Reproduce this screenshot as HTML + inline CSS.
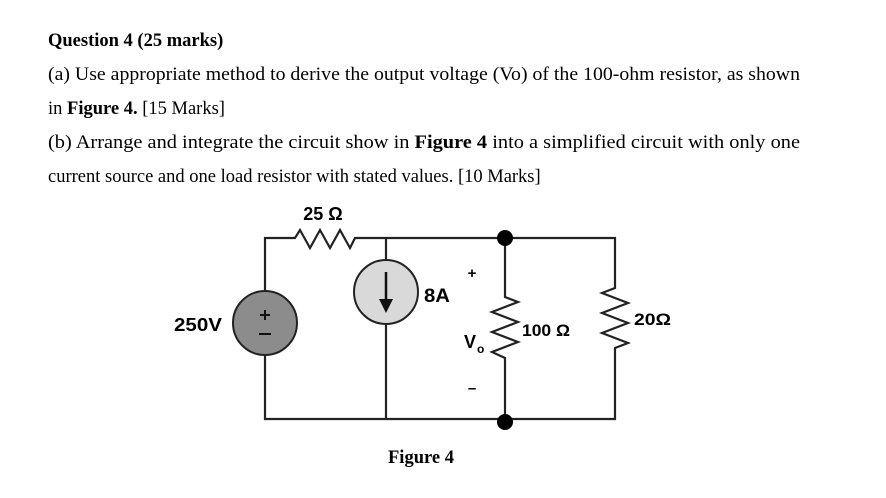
<!DOCTYPE html>
<html><head><meta charset="utf-8"><style>
html,body{margin:0;padding:0;background:#fff;}
svg{display:block;}
.t{font-family:"Liberation Serif",serif;font-size:18.5px;fill:#000;}
.s{font-family:"Liberation Sans",sans-serif;font-weight:bold;fill:#000;}
</style></head><body>
<svg width="886" height="498" viewBox="0 0 886 498" xmlns="http://www.w3.org/2000/svg">
<text class="t" x="48" y="46" font-weight="bold">Question 4 (25 marks)</text>
<text class="t" x="48" y="80" textLength="752" lengthAdjust="spacingAndGlyphs">(a) Use appropriate method to derive the output voltage (Vo) of the 100-ohm resistor, as shown</text>
<text class="t" x="48" y="114">in <tspan font-weight="bold">Figure 4.</tspan> [15 Marks]</text>
<text class="t" x="48" y="148" textLength="752" lengthAdjust="spacingAndGlyphs">(b) Arrange and integrate the circuit show in <tspan font-weight="bold">Figure 4</tspan> into a simplified circuit with only one</text>
<text class="t" x="48" y="182">current source and one load resistor with stated values. [10 Marks]</text>

<g stroke="#222" stroke-width="2.2" fill="none" stroke-linejoin="miter">
<path d="M265 291 V238 H295 L300 230 L310 248 L320 230 L330 248 L340 230 L350 248 L355 238 H615 V288 L602 293 L628 303 L602 313 L628 323 L602 333 L628 343 L615 348 V419 H265 V355"/>
<path d="M386 238 V260 M386 324 V419"/>
<path d="M505 238 V297 L518 302 L492 312 L518 322 L492 332 L518 342 L492 352 L505 358 V419"/>
</g>
<circle cx="265" cy="323" r="32" fill="#8c8c8c" stroke="#222" stroke-width="2"/>
<circle cx="386" cy="292" r="32" fill="#d9d9d9" stroke="#222" stroke-width="2"/>
<path d="M386 272 V302" stroke="#111" stroke-width="2.5"/>
<path d="M379 299 L393 299 L386 313 Z" fill="#111"/>
<circle cx="505" cy="238" r="8" fill="#000"/>
<circle cx="505" cy="422" r="8" fill="#000"/>
<path d="M260 315 H270 M265 310 V320 M259 334 H271" stroke="#111" stroke-width="2"/>
<text class="s" x="323" y="220" font-size="18" text-anchor="middle">25 Ω</text>
<text class="s" x="174" y="331" font-size="18" textLength="48" lengthAdjust="spacingAndGlyphs">250V</text>
<text class="s" x="424" y="302" font-size="19" textLength="26" lengthAdjust="spacingAndGlyphs">8A</text>
<text class="s" x="472" y="278" font-size="15" text-anchor="middle">+</text>
<text class="s" x="464" y="348" font-size="18">V</text>
<text class="s" x="477" y="353" font-size="12">o</text>
<text class="s" x="472" y="393" font-size="15" text-anchor="middle">–</text>
<text class="s" x="522" y="336" font-size="17" textLength="48" lengthAdjust="spacingAndGlyphs">100 Ω</text>
<text class="s" x="634" y="325" font-size="17" textLength="37" lengthAdjust="spacingAndGlyphs">20Ω</text>
<text class="t" x="388" y="463" font-weight="bold">Figure 4</text>
</svg>
</body></html>
